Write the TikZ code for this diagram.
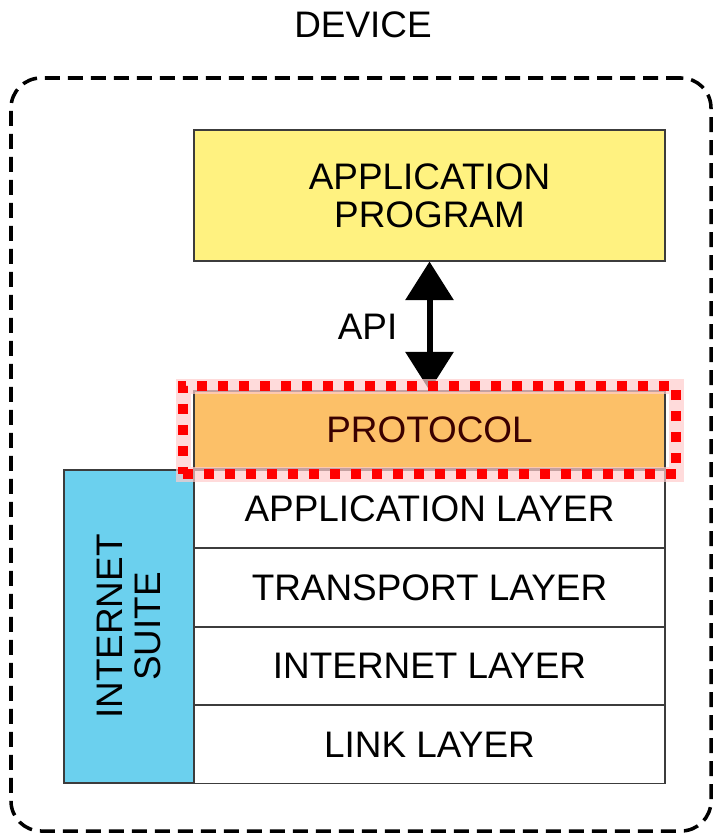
\documentclass[tikz,border=0pt]{standalone}
\usepackage{fontspec}
\setmainfont{Liberation Sans}
\definecolor{AppYellow}{RGB}{255, 242, 128}
\definecolor{ProtoOrange}{RGB}{252, 192, 104}
\definecolor{SuiteBlue}{RGB}{107, 208, 238}
\definecolor{ProtoText}{RGB}{58, 0, 0}
\definecolor{EdgeGray}{RGB}{60, 60, 60}
\usetikzlibrary{arrows.meta, positioning}

\begin{document}
\begin{tikzpicture}[
        every node/.style={font=\fontsize{21}{21.8}\selectfont},
        block/.style={rectangle, draw=EdgeGray, line width=0.6pt, minimum width=9.42cm, align=center, inner sep=0pt},
        layer/.style={block, fill=white, minimum height=1.55cm},
        hilite/.style={rectangle, draw=red, line width=0.2cm, dash pattern=on 0.2cm off 0.22cm,
            preaction={draw=red!20, line width=0.3cm, solid, opacity=0.7}, inner sep=0pt},
        apiarrow/.style={{Triangle[width=0.94cm, length=0.77cm]}-{Triangle[width=0.94cm, length=0.77cm]}, line width=0.12cm, black}
    ]
        \useasboundingbox (0,0) rectangle (14.26,-16.66);

        % Device frame
        \node (devlabel) at (7.26,-0.5) {DEVICE};
        \node[rectangle, rounded corners=0.6cm, draw, line width=2pt, dash pattern=on 0.3cm off 0.16cm,
            minimum width=14cm, minimum height=15.06cm, inner sep=0pt] (device) at (7.22,-9.09) {};

        % Application program and protocol
        \node[block, fill=AppYellow, minimum height=2.62cm] (app) at (8.59,-3.91) {APPLICATION\\PROGRAM};
        \node[block, fill=ProtoOrange, minimum height=1.56cm, text=ProtoText] (proto) at (8.59,-8.60) {PROTOCOL};
        \draw[apiarrow] (app.south) -- (proto.north);
        \node[left=0.52cm of app.south, yshift=-1.3cm] (api) {API};

        % Internet suite layers
        \node[layer, below=0pt of proto] (applayer) {APPLICATION LAYER};
        \node[layer, below=0pt of applayer] (translayer) {TRANSPORT LAYER};
        \node[layer, below=0pt of translayer] (inetlayer) {INTERNET LAYER};
        \node[layer, below=0pt of inetlayer] (linklayer) {LINK LAYER};
        \node[rectangle, draw=EdgeGray, line width=0.6pt, fill=SuiteBlue, rotate=90, align=center,
            minimum width=6.26cm, minimum height=2.6cm, inner sep=0pt] (suite) at (2.58,-12.53) {INTERNET\\SUITE};

        % Highlight round the protocol
        \node[hilite, minimum width=9.86cm, minimum height=1.76cm] (protohl) at (proto.center) {};
    \end{tikzpicture}
\end{document}
